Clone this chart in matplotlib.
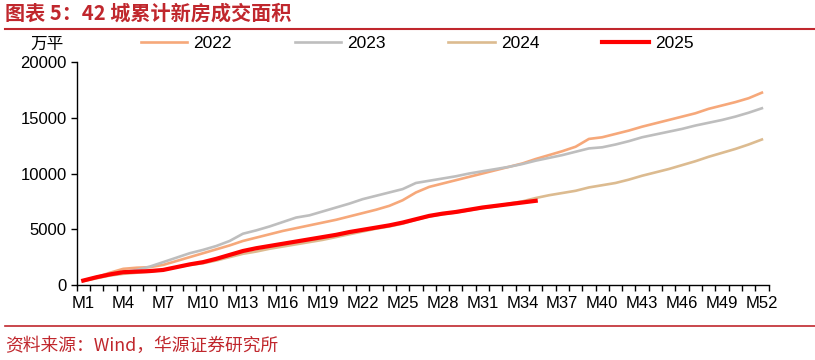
import matplotlib
matplotlib.use("Agg")
import matplotlib.pyplot as plt
import numpy as np

plt.rcParams['font.family'] = ['Liberation Sans', 'Noto Sans CJK SC', 'DejaVu Sans']

# weeks M1..M52
weeks = ["M" + str(i) for i in range(1, 53)]

# cumulative new-home sales area, 10k sqm
y2022 = [400, 700, 1100, 1450, 1550, 1600, 1800, 2150, 2500, 2850, 3200, 3550, 3950,
         4250, 4550, 4850, 5100, 5350, 5600, 5850, 6150, 6450, 6750, 7100, 7600, 8300,
         8800, 9100, 9400, 9700, 10000, 10300, 10600, 10900, 11300, 11650, 12000, 12400,
         13100, 13250, 13550, 13850, 14200, 14500, 14800, 15100, 15400, 15800, 16100,
         16400, 16750, 17250]
y2023 = [400, 650, 900, 1150, 1350, 1650, 2050, 2450, 2850, 3150, 3500, 3950, 4600,
         4900, 5250, 5650, 6050, 6250, 6600, 6950, 7300, 7700, 8000, 8300, 8600, 9150,
         9350, 9550, 9750, 10000, 10200, 10400, 10600, 10850, 11150, 11400, 11650, 11950,
         12250, 12350, 12600, 12900, 13250, 13500, 13750, 14000, 14300, 14550, 14800,
         15100, 15450, 15850]
y2024 = [350, 600, 850, 1000, 1100, 1200, 1350, 1600, 1800, 1950, 2200, 2500, 2800,
         3000, 3250, 3450, 3650, 3850, 4050, 4300, 4550, 4800, 5050, 5250, 5500, 5850,
         6150, 6350, 6500, 6700, 6900, 7050, 7300, 7500, 7800, 8050, 8250, 8450, 8750,
         8950, 9150, 9450, 9800, 10100, 10400, 10750, 11100, 11500, 11850, 12200, 12600,
         13050]
y2025 = [400, 700, 950, 1150, 1200, 1250, 1350, 1600, 1850, 2050, 2350, 2700, 3050,
         3300, 3500, 3700, 3900, 4100, 4300, 4500, 4750, 4950, 5150, 5350, 5600, 5900,
         6200, 6400, 6550, 6750, 6950, 7100, 7250, 7400, 7550]

yticks = [0, 5000, 10000, 15000, 20000]

TITLE_RED = '#C0272D'


def make_chart():
    fig = plt.figure(figsize=(8.15, 3.6), dpi=100)
    ax = fig.add_axes([0.094, 0.2083, 0.849, 0.6195])

    x = np.arange(1, len(weeks) + 1)
    ax.plot(x, y2022, color='#F6A87A', lw=1.9, label='2022')
    ax.plot(x, y2023, color='#BEBEBE', lw=1.9, label='2023')
    ax.plot(x, y2024, color='#DCBB90', lw=1.9, label='2024')
    ax.plot(x[:len(y2025)], y2025, color='#FF0000', lw=3.0, label='2025')

    ax.set_xlim(0.5, len(weeks) + 0.5)
    ax.set_ylim(0, 20000)
    ax.set_yticks(yticks)
    ax.set_yticklabels([str(v) for v in yticks], fontsize=12)
    ax.set_xticks(x[::3])
    ax.set_xticklabels(weeks[::3], fontsize=12)
    ax.set_xticks(np.arange(0.5, len(weeks) + 1, 1), minor=True)
    ax.tick_params(axis='x', which='major', length=0, pad=8)
    ax.tick_params(axis='x', which='minor', length=4, direction='out', width=1)
    ax.tick_params(axis='y', length=4, direction='out', width=1, pad=3)

    for s in ['top', 'right']:
        ax.spines[s].set_visible(False)
    for s in ['left', 'bottom']:
        ax.spines[s].set_linewidth(1.0)
        ax.spines[s].set_color('black')

    fig.text(0.037, 0.876, '万平', fontsize=12, family=['Noto Sans CJK SC'], va='center')

    fig.legend(loc='center', bbox_to_anchor=(0.512, 0.878), ncol=4, frameon=False,
               fontsize=12.5, handlelength=2.7, handletextpad=0.35, columnspacing=3.6)

    # header / footer
    fig.text(0.006, 0.963, '图表 5：42 城累计新房成交面积', fontsize=14.5, fontweight='bold',
             color=TITLE_RED, family=['Noto Sans CJK SC'], va='center')
    fig.add_artist(plt.Line2D([0.006, 1.0], [0.919, 0.919], color=TITLE_RED, lw=1.5))
    fig.add_artist(plt.Line2D([0.006, 1.0], [0.094, 0.094], color=TITLE_RED, lw=1.2))
    fig.text(0.006, 0.040, '资料来源：Wind，华源证券研究所', fontsize=12.8,
             color=TITLE_RED, family=['Noto Sans CJK SC'], va='center')

    fig.savefig('out.png', dpi=100)


def main():
    make_chart()

main()
